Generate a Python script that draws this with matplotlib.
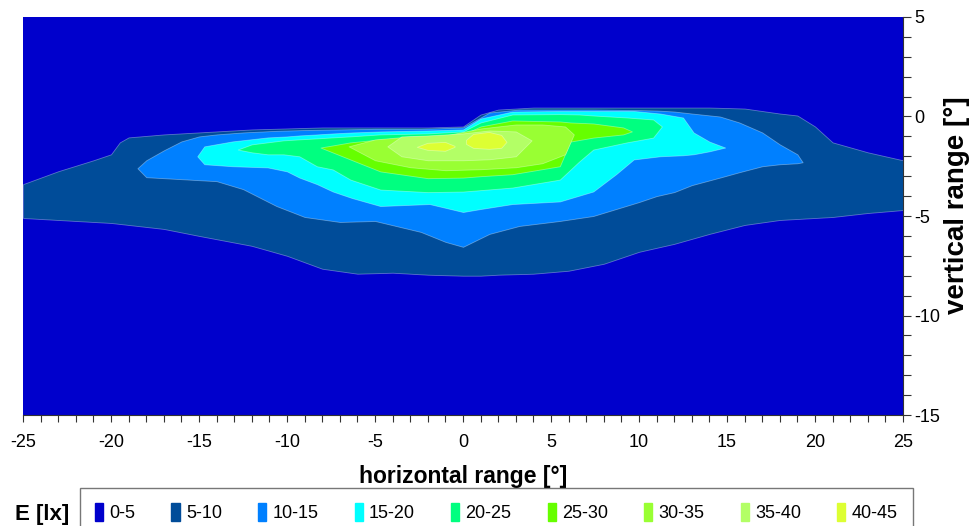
import numpy as np
import matplotlib
matplotlib.use('Agg')
import matplotlib.pyplot as plt
import matplotlib.patches as mpatches

plt.rcParams['axes.unicode_minus'] = False
plt.rcParams['font.family'] = ['Liberation Sans', 'DejaVu Sans']

# Illuminance classes (lx) and their colours
class_labels = ['0-5', '5-10', '10-15', '15-20', '20-25', '25-30', '30-35', '35-40', '40-45']
class_colors = ['#0000cc', '#004c99', '#0080ff', '#00ffff', '#00ff80',
                '#66ff00', '#99ff33', '#b3ff66', '#ddff33']

# Iso-lux outlines: for each class lower limit,
# horizontal angle x and the upper / lower vertical angle of the area >= limit
x_5 = [-25, -23, -21, -20, -19.5, -19, -17, -15, -12, -10, -8, -6, -4, -2, 0, 1, 2, 4,
       6, 8, 10, 12, 14, 16, 18, 19, 20, 21, 23, 25]
up_5 = [-3.4, -2.75, -2.2, -1.9, -1.3, -1.05, -0.9, -0.8, -0.65, -0.6, -0.55, -0.55, -0.55,
        -0.55, -0.5, 0.1, 0.35, 0.45, 0.45, 0.45, 0.45, 0.45, 0.45, 0.4, 0.15, 0.05, -0.5,
        -1.3, -1.8, -2.2]
lo_5 = [-5.1, -5.2, -5.3, -5.35, -5.4, -5.45, -5.65, -6.0, -6.5, -7.0, -7.65, -7.9, -7.85,
        -7.95, -8.0, -8.0, -7.95, -7.9, -7.75, -7.4, -6.8, -6.4, -5.9, -5.45, -5.2, -5.15,
        -5.1, -5.05, -4.85, -4.7]

x_10 = [-18.5, -18, -17, -16, -15, -14, -12.5, -10.6, -9, -7, -5, -2.4, -1, 0, 1.5, 3.2,
        5.5, 7.4, 10, 11, 12, 13, 14.6, 15.7, 17, 18, 19, 19.3]
up_10 = [-2.6, -2.2, -1.7, -1.25, -1.0, -0.9, -0.8, -0.72, -0.68, -0.65, -0.62, -0.62, -0.58,
         -0.55, 0.2, 0.35, 0.35, 0.35, 0.32, 0.3, 0.25, 0.15, 0.0, -0.3, -0.8, -1.4, -1.9, -2.3]
lo_10 = [-2.6, -3.05, -3.1, -3.15, -3.2, -3.25, -3.65, -4.5, -5.05, -5.3, -5.25, -5.8, -6.3,
         -6.55, -5.9, -5.5, -5.25, -5.0, -4.3, -4.0, -3.8, -3.45, -3.07, -2.8, -2.5, -2.4,
         -2.35, -2.3]

x_15 = [-15.1, -14.7, -13.1, -11.1, -10, -9.3, -8.3, -7.4, -6.3, -4.7, -1.9, 0, 1.0, 2.8,
        5.5, 7.4, 8.7, 9.7, 11.2, 12.5, 13.1, 14, 14.9]
up_15 = [-2.0, -1.5, -1.25, -1.05, -1.0, -0.95, -0.9, -0.85, -0.8, -0.75, -0.7, -0.65, -0.1,
         0.25, 0.28, 0.28, 0.28, 0.28, 0.15, -0.05, -0.8, -1.26, -1.56]
lo_15 = [-2.0, -2.4, -2.5, -2.56, -2.76, -3.07, -3.4, -3.77, -4.1, -4.5, -4.4, -4.8, -4.65,
         -4.4, -4.27, -3.77, -2.9, -2.16, -2.0, -1.95, -1.9, -1.75, -1.56]

x_20 = [-12.8, -12, -11.1, -10.2, -9.3, -8.3, -7.4, -6.4, -4.7, -2, 0, 1, 2.8, 5.5, 6.6,
        7.4, 9.3, 10.8, 11.3]
up_20 = [-1.66, -1.4, -1.3, -1.2, -1.15, -1.1, -1.05, -1.0, -0.9, -0.85, -0.75, -0.3, 0.1,
         0.12, 0.1, 0.05, -0.05, -0.15, -0.5]
lo_20 = [-1.66, -1.8, -1.9, -1.9, -2.0, -2.5, -2.66, -3.17, -3.67, -3.8, -3.77, -3.7, -3.57,
         -3.17, -2.26, -1.66, -1.3, -1.06, -0.5]

x_25 = [-8.1, -6.4, -4.7, -2, 0, 1, 2.8, 5.5, 6.1, 7.4, 9.1, 9.6]
up_25 = [-1.56, -1.3, -1.15, -1.0, -0.9, -0.5, -0.2, -0.25, -0.3, -0.35, -0.55, -0.75]
lo_25 = [-1.56, -2.16, -2.76, -3.1, -3.07, -3.0, -2.9, -2.5, -1.26, -1.06, -0.9, -0.75]

x_30 = [-6.5, -5, -3, -1, 1, 3, 4.5, 5.8, 6.3]
up_30 = [-1.5, -1.15, -1.0, -0.95, -0.6, -0.4, -0.4, -0.5, -0.9]
lo_30 = [-1.5, -2.2, -2.55, -2.7, -2.65, -2.55, -2.35, -1.9, -0.9]

x_35 = [-4.3, -3.5, -2, 0, 1.5, 3, 3.9]
up_35 = [-1.5, -1.0, -0.95, -0.85, -0.7, -0.75, -1.2]
lo_35 = [-1.5, -2.0, -2.2, -2.2, -2.15, -2.0, -1.2]

x_40 = [-2.6, -2.0, -1.0, -0.45, -0.2, 0.2, 0.6, 1.5, 2.2, 2.5]
up_40 = [-1.55, -1.35, -1.3, -1.5, np.nan, -1.2, -0.9, -0.8, -0.95, -1.3]
lo_40 = [-1.55, -1.7, -1.75, -1.55, np.nan, -1.4, -1.6, -1.65, -1.6, -1.3]

outlines = [(x_5, up_5, lo_5), (x_10, up_10, lo_10), (x_15, up_15, lo_15),
            (x_20, up_20, lo_20), (x_25, up_25, lo_25), (x_30, up_30, lo_30),
            (x_35, up_35, lo_35), (x_40, up_40, lo_40)]

fig = plt.figure(figsize=(9.7, 5.26), dpi=100)
ax = fig.add_axes([0.0237, 0.211, 0.9072, 0.7567])
ax.set_facecolor(class_colors[0])

# filled bands, each with a faint light outline like the mesh seams of the original
for i, (xs, ups, los) in enumerate(outlines):
    ax.fill_between(np.array(xs), np.array(ups), np.array(los),
                    facecolor=class_colors[i + 1], edgecolor=(1, 1, 1, 0.35), linewidth=0.6)

ax.set_xlim(-25, 25)
ax.set_ylim(-15, 5)
ax.set_xticks(np.arange(-25, 26, 5))
ax.set_xticks(np.arange(-25, 26, 1), minor=True)
ax.set_yticks(np.arange(-15, 6, 5))
ax.set_yticks(np.arange(-15, 6, 1), minor=True)
ax.yaxis.tick_right()
ax.yaxis.set_label_position('right')
ax.tick_params(axis='both', which='both', direction='out', color='#333333', width=0.8,
               labelsize=13)
ax.tick_params(axis='x', which='both', length=5, pad=9)
ax.tick_params(axis='y', which='both', length=6, pad=2)
for s in ['top', 'left']:
    ax.spines[s].set_visible(False)
for s in ['bottom', 'right']:
    ax.spines[s].set_color('#333333')
    ax.spines[s].set_linewidth(0.8)

ax.set_xlabel('horizontal range [°]', fontsize=16.5, fontweight='bold', labelpad=10)
ax.set_ylabel('vertical range [°]', fontsize=20, fontweight='bold')
ax.yaxis.set_label_coords(1.047, 0.527)

handles = [mpatches.Patch(color=c, label=l) for c, l in zip(class_colors, class_labels)]
leg = fig.legend(handles=handles, loc='upper left', bbox_to_anchor=(0.082, 0.072), ncol=9,
                 frameon=True, fancybox=False, edgecolor='#555555', handlelength=0.45,
                 handleheight=1.1, handletextpad=0.35, columnspacing=2.0,
                 borderpad=0.85, borderaxespad=0, prop={'size': 13})
leg.get_frame().set_linewidth(1.0)
leg.get_frame().set_facecolor('none')
fig.text(0.015, 0.021, 'E [lx]', fontsize=16, fontweight='bold', ha='left', va='center')

fig.savefig('out.png', dpi=100)
